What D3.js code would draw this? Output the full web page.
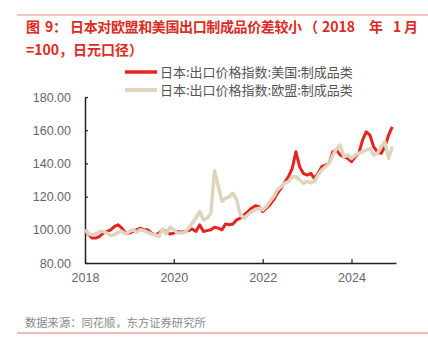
<!DOCTYPE html>
<html><head><meta charset="utf-8">
<script src="https://cdn.jsdelivr.net/npm/d3@7"></script>
<style>
html,body{margin:0;padding:0;background:#fff;}
svg{display:block;font-family:"Liberation Sans","Noto Sans CJK SC",sans-serif;}
</style></head>
<body>
<svg id="c" width="428" height="343"></svg>
<script>
// title pieces (line 1 split for spacing as in the reference)
const titlePieces1 = [["图", 26], ["9", 45], ["：", 53], ["日本对欧盟和美国出口制成品价差较小", 70, 232], ["（", 304], ["2018", 322], ["年", 369], ["1", 393], ["月", 404]];
const titleLine2 = "=100，日元口径）";
const seriesNames = ["日本:出口价格指数:美国:制成品类", "日本:出口价格指数:欧盟:制成品类"];
const sourceText = "数据来源：同花顺，东方证券研究所";
const startYear = 2018;
const yTicks = [80, 100, 120, 140, 160, 180];
const xTickYears = [2018, 2020, 2022, 2024];
// Monthly, 2018-01 .. 2024-12
const usValues = [
  100, 97, 95, 95, 96, 98, 99, 100, 102, 103, 101, 98,
  98, 99, 100, 101, 100, 100, 98, 97, 98, 100, 99, 97.5,
  98, 99, 98.5, 99, 99.5, 100.5, 99, 103, 99, 99.5, 100, 101.5,
  101, 100, 103.5, 103, 103.5, 106, 107, 109, 111, 113, 114.5, 114,
  111, 113, 115, 118, 122, 125, 128.5, 132, 137, 147, 138, 134,
  133, 134, 131, 134, 138, 139, 140, 147, 148, 145, 144, 143,
  141, 144, 146, 154, 159, 157, 150, 147, 146, 150, 157, 162
];
const euValues = [
  100, 97.5, 97, 97.5, 99, 99, 98, 96.5, 97, 98.5, 99, 97.5,
  99, 100, 98.5, 100, 99.5, 98.5, 97.5, 97, 96, 100.5, 97.5, 101.5,
  100, 98, 98, 98.4, 101, 104, 107, 111, 106, 107, 110, 135.5,
  126, 117, 119, 120, 122, 118, 109, 107, 109, 111, 112, 113,
  112, 114, 117, 120, 124, 126, 128, 129, 132, 132, 130, 128,
  129, 128.5, 129, 133, 136, 138, 140, 145, 149, 151, 144, 145,
  143, 145, 146, 147, 148, 149, 145, 146, 150, 153, 143, 150
];
const seriesColors = ["#e52420", "#dfd4bc"];

const svg = d3.select("#c");

// frame lines
svg.append("line").attr("x1", 17).attr("x2", 428).attr("y1", 15).attr("y2", 15)
  .attr("stroke", "#e98b86").attr("stroke-width", 1.2);
svg.append("line").attr("x1", 17).attr("x2", 428).attr("y1", 333).attr("y2", 333)
  .attr("stroke", "#f0a4a2").attr("stroke-width", 1.5);

// title
const tg = svg.append("g").attr("fill", "#dd2a22").attr("font-weight", "bold")
  .attr("font-size", 14).attr("font-family", "'Noto Sans CJK SC',sans-serif");
const t1 = tg.append("text").attr("y", 32);
titlePieces1.forEach(p => {
  const ts = t1.append("tspan").attr("x", p[1]).text(p[0]);
  if (p[2]) ts.attr("textLength", p[2]).attr("lengthAdjust", "spacing");
});
tg.append("text").attr("x", 26).attr("y", 55).text(titleLine2);

const x = d3.scaleTime().domain([new Date(2018, 0, 1), new Date(2025, 0, 1)]).range([85, 396]);
const y = d3.scaleLinear().domain([80, 180]).range([263, 97]);
const dateOf = i => new Date(startYear, i, 1);

// axes
const yAxis = d3.axisLeft(y).tickValues(yTicks).tickFormat(d3.format(".2f")).tickSizeInner(-3).tickSizeOuter(0).tickPadding(14);
const gy = svg.append("g").attr("transform", "translate(85,0)").call(yAxis);
gy.select(".domain").attr("stroke", "#222").attr("stroke-width", 1.5);
gy.selectAll(".tick line").attr("stroke", "#222").attr("stroke-width", 1.2);
gy.selectAll(".tick text").attr("fill", "#666").attr("font-size", 12.5)
  .attr("font-family", "'Liberation Sans',Arial,sans-serif");

const xAxis = d3.axisBottom(x).tickValues(xTickYears.map(yv => new Date(yv, 0, 1)))
  .tickFormat(d3.timeFormat("%Y")).tickSizeInner(-4).tickSizeOuter(0).tickPadding(10);
const gx = svg.append("g").attr("transform", "translate(0,263)").call(xAxis);
gx.select(".domain").attr("stroke", "#222").attr("stroke-width", 1.5);
gx.selectAll(".tick line").attr("stroke", "#222").attr("stroke-width", 1.2);
gx.selectAll(".tick text").attr("fill", "#666").attr("font-size", 12.5)
  .attr("font-family", "'Liberation Sans',Arial,sans-serif");

// lines
const line = d3.line().x((d, i) => x(dateOf(i))).y(d => y(d)).curve(d3.curveLinear);
svg.append("path").datum(usValues).attr("d", line).attr("fill", "none")
  .attr("stroke", seriesColors[0]).attr("stroke-width", 3).attr("stroke-linejoin", "round");
svg.append("path").datum(euValues).attr("d", line).attr("fill", "none")
  .attr("stroke", seriesColors[1]).attr("stroke-width", 3.5).attr("stroke-linejoin", "round");

// legend
const lg = svg.append("g");
seriesNames.forEach((n, i) => {
  const ly = 72 + i * 18;
  lg.append("line").attr("x1", 125).attr("x2", 157).attr("y1", ly).attr("y2", ly)
    .attr("stroke", seriesColors[i]).attr("stroke-width", i === 0 ? 3.5 : 4);
  lg.append("text").attr("x", 160).attr("y", ly + 4.5).attr("fill", "#555")
    .attr("font-size", 13).attr("font-family", "'Noto Sans CJK SC',sans-serif").text(n);
});

// source
svg.append("text").attr("x", 25).attr("y", 327).attr("fill", "#8a8a8a").attr("font-size", 11.3)
  .attr("font-family", "'Noto Sans CJK SC',sans-serif").text(sourceText);
</script>
</body></html>
